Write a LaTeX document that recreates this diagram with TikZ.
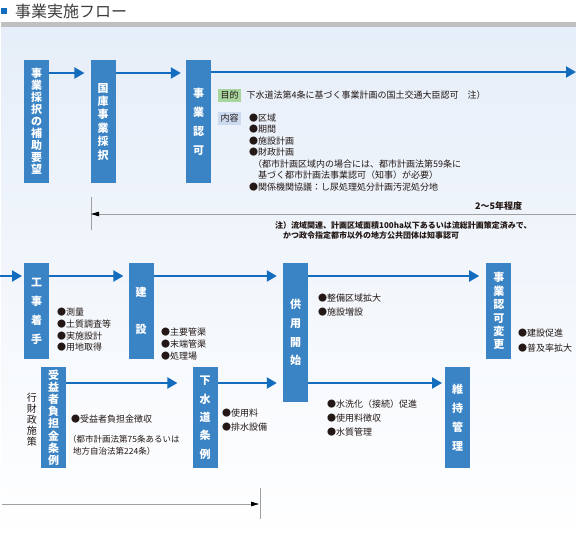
\documentclass[tikz,border=0pt]{standalone}
\usepackage{fontspec}
\setmainfont{Noto Sans CJK JP}
\usetikzlibrary{positioning,arrows.meta}

\definecolor{boxblue}{RGB}{58,132,198}
\definecolor{flowblue}{RGB}{20,108,190}
\definecolor{panelblue}{RGB}{230,238,249}
\definecolor{bargray}{RGB}{192,192,192}
\definecolor{taggreen}{RGB}{168,213,158}
\definecolor{tagblue}{RGB}{204,218,240}
\definecolor{textdark}{RGB}{35,24,21}
\definecolor{spangray}{RGB}{160,160,160}
\definecolor{titlegray}{RGB}{60,60,60}

\begin{document}
\begin{tikzpicture}[
      x=1pt, y=-1pt,
      box/.style  = {fill=boxblue, text=white, inner sep=0, minimum width=25pt, align=center,
                     font=\bfseries\fontsize{11}{#1}\selectfont},
      note/.style = {text=textdark, inner sep=0, align=left, font=\fontsize{9}{#1}\selectfont},
      note/.default = 11.5,
      tag/.style  = {text=textdark, inner xsep=2.5pt, inner ysep=0, minimum height=13pt,
                     font=\fontsize{9}{11}\selectfont},
      flow/.style = {draw=flowblue, line width=2.2pt, -{Triangle[length=10pt,width=11pt]}},
      span/.style = {draw=spangray, line width=0.8pt}
    ]
    \useasboundingbox (0,0) rectangle (576,539);

    % heading and panel
    \fill[bargray] (1,22) rectangle (576,27);
    \shade[top color=panelblue, middle color=panelblue!60, bottom color=white] (1,27) rectangle (576,539);
    \node (titlemark) [fill=flowblue, minimum size=6pt, inner sep=0, anchor=north west] at (1,8) {};
    \node (title)     [text=titlegray, inner sep=0, anchor=west, font=\fontsize{16}{16}\selectfont] at (15,11.5) {事業実施フロー};

    % row 1
    \node (saitaku) [box=12, minimum height=123pt, anchor=north west] at (24,60) {事\\業\\採\\択\\の\\補\\助\\要\\望};
    \node (kokko)   [box=13.4, minimum height=123pt, right=41pt of saitaku]  {国\\庫\\事\\業\\採\\択};
    \node (ninka)   [box=19, minimum height=123pt, right=70pt of kokko]      {事\\業\\認\\可};
    \coordinate (goal1) at (576,72);

    \node (mokuteki)    [tag, fill=taggreen, anchor=west] at (218,95) {目的};
    \node (mokutekitxt) [note, right=5pt of mokuteki]               {下水道法第4条に基づく事業計画の国土交通大臣認可\hspace{9pt}注）};
    \node (naiyou)      [tag, fill=tagblue, anchor=west] at (218,118) {内容};
    \node (naiyoutxt)   [note, anchor=north west] at (249,113.5) {●区域\\●期間\\●施設計画\\●財政計画\\
      \hspace*{4pt}（都市計画区域内の場合には、都市計画法第59条に\\
      \hspace*{9pt}基づく都市計画法事業認可（知事）が必要）\\
      ●関係機関協議：し尿処理処分計画汚泥処分地};

    \node (kikan) [note, anchor=west, font=\bfseries\fontsize{9}{11}\selectfont] at (475,206) {2〜5年程度};
    \coordinate (tick1a) at (91,197);
    \coordinate (tick1b) at (91,230);
    \coordinate (span1)  at (576,214);
    \node (chuu) [note, anchor=north west, font=\bfseries\fontsize{8}{10.5}\selectfont] at (275,221)
      {注）流域関連、計画区域面積100ha以下あるいは流総計画策定済みで、\\\hspace*{8pt}かつ政令指定都市以外の地方公共団体は知事認可};

    % row 2
    \coordinate (start2) at (0,276);
    \node (chakushu) [box=18.8, minimum height=96pt, anchor=north west] at (24,263) {工\\事\\着\\手};
    \node (kensetsu) [box=37, minimum height=96pt, right=79pt of chakushu] {建\\設};
    \node (kyouyou)  [box=18.7, minimum height=139pt, right=129pt of kensetsu.north east, anchor=north west] {供\\用\\開\\始};
    \node (henkou)   [box=13.4, minimum height=96pt, right=178pt of kyouyou.north east, anchor=north west] {事\\業\\認\\可\\変\\更};

    \node (chakushutxt) [note=11.7, anchor=north west] at (57,308)  {●測量\\●土質調査等\\●実施設計\\●用地取得};
    \node (kensetsutxt) [note=12, anchor=north west]   at (161,328) {●主要管渠\\●末端管渠\\●処理場};
    \node (kyouyoutxt)  [note=14, anchor=north west]   at (318,294) {●整備区域拡大\\●施設増設};
    \node (henkoutxt)   [note=15, anchor=north west]   at (518,329) {●建設促進\\●普及率拡大};

    % row 3
    \node (zaisei)   [text=textdark, inner sep=0, align=center, font=\fontsize{10}{11}\selectfont] at (32,420) {行\\財\\政\\施\\策};
    \node (futankin) [box=12.1, minimum height=101pt, anchor=north west] at (41,367) {受\\益\\者\\負\\担\\金\\条\\例};
    \node (jourei)   [box=18.3, minimum height=101pt, right=126pt of futankin] {下\\水\\道\\条\\例};
    \node (ijikanri) [box=19, minimum height=101pt, anchor=north west] at (445,367) {維\\持\\管\\理};
    \coordinate (j3) at ([yshift=-16pt]jourei.north east);
    \coordinate (i3) at ([yshift=-16pt]ijikanri.north west);

    \node (futankintxt) [note, anchor=west] at (71,419) {●受益者負担金徴収};
    \node (futankinref) [note=12, anchor=north west, font=\fontsize{8.5}{12}\selectfont] at (68,435)
      {（都市計画法第75条あるいは\\\hspace*{5pt}地方自治法第224条）};
    \node (joureitxt)   [note=14, anchor=north west] at (222,409) {●使用料\\●排水設備};
    \node (ijitxt)      [note=14, anchor=north west] at (327,400) {●水洗化（接続）促進\\●使用料徴収\\●水質管理};

    \coordinate (tick2a) at (260,488);
    \coordinate (tick2b) at (260,519);
    \coordinate (span2)  at (2,504);

    % connectors
    \draw[flow, shorten >=6pt] ([yshift=-13pt]saitaku.north east) to ([yshift=-13pt]kokko.north west);
    \draw[flow, shorten >=5pt] ([yshift=-13pt]kokko.north east)   to ([yshift=-13pt]ninka.north west);
    \draw[flow]                ([yshift=-12pt]ninka.north east)   to (goal1);

    \draw[flow, shorten >=2pt] (start2)                            to ([yshift=-13pt]chakushu.north west);
    \draw[flow, shorten >=5pt] ([yshift=-13pt]chakushu.north east) to ([yshift=-13pt]kensetsu.north west);
    \draw[flow, shorten >=6pt] ([yshift=-13pt]kensetsu.north east) to ([yshift=-13pt]kyouyou.north west);
    \draw[flow, shorten >=7pt] ([yshift=-13pt]kyouyou.north east)  to ([yshift=-13pt]henkou.north west);

    \draw[flow, shorten >=15pt] ([yshift=-16pt]futankin.north east) to ([yshift=-16pt]jourei.north west);
    \draw[flow, shorten >=6pt]  (j3)                                to (kyouyou.west |- j3);
    \draw[flow, shorten >=3pt]  (kyouyou.east |- i3)                to (i3);

    \draw[span] (tick1a) to (tick1b);
    \draw[span, -{Triangle[length=8pt,width=4.5pt,color=black]}] (span1) to (tick1a |- span1);
    \draw[span] (tick2a) to (tick2b);
    \draw[span, shorten >=1pt, -{Triangle[length=8pt,width=4.5pt,color=black]}] (span2) to (tick2a |- span2);

  \end{tikzpicture}
\end{document}
